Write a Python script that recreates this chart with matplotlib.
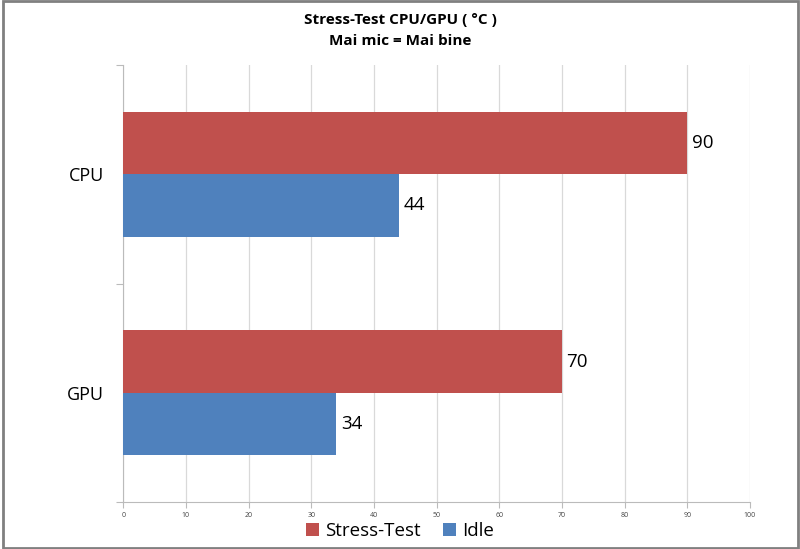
import matplotlib
matplotlib.use("Agg")
import matplotlib.pyplot as plt
from matplotlib.patches import Rectangle
import numpy as np

categories = ["CPU", "GPU"]
stress = [90, 70]
idle = [44, 34]
series_names = ["Stress-Test", "Idle"]
xticks = list(range(0, 101, 10))

plt.rcParams['font.family'] = ['Open Sans', 'DejaVu Sans']

fig = plt.figure(figsize=(8, 5.49), dpi=100)
ax = fig.add_axes([0.154, 0.0856, 0.7835, 0.796])

red = "#C0504D"
blue = "#4F81BD"
h = 0.285
y = np.arange(len(categories))
b1 = ax.barh(y - h / 2, stress, height=h, color=red, label=series_names[0], zorder=3)
b2 = ax.barh(y + h / 2, idle, height=h, color=blue, label=series_names[1], zorder=3)

for bars, vals in ((b1, stress), (b2, idle)):
    for bar, v in zip(bars, vals):
        ax.text(bar.get_width() + 0.7, bar.get_y() + bar.get_height() / 2, str(v),
                va="center", ha="left", fontsize=13.5, color="black")

ax.set_xlim(0, 100)
ax.set_ylim(1.5, -0.5)
ax.set_xticks(xticks)
ax.set_xticklabels([str(t) for t in xticks], fontsize=5, color="#444444")
ax.set_yticks([-0.5, 0.5, 1.5])
ax.set_yticklabels(["", "", ""])
ax.set_yticks(y, minor=True)
ax.set_yticklabels(categories, minor=True, fontsize=13)
ax.tick_params(axis="y", which="minor", length=0, pad=14)
ax.tick_params(axis="y", which="major", length=5, color="#BBBBBB")
ax.tick_params(axis="x", length=4, color="#BBBBBB", pad=3)
ax.grid(axis="x", color="#D9D9D9", linewidth=0.9, zorder=0)
for s in ("top", "right"):
    ax.spines[s].set_visible(False)
for s in ("left", "bottom"):
    ax.spines[s].set_color("#BBBBBB")

fig.text(0.5, 0.976, "Stress-Test CPU/GPU ( \u00b0C )\nMai mic = Mai bine", ha="center", va="top",
         fontsize=11, fontweight="bold", linespacing=1.65)

leg = fig.legend(handles=[b1, b2], loc="lower center", bbox_to_anchor=(0.5, -0.014), ncol=2,
                 frameon=False, fontsize=13.5, handlelength=0.7, handleheight=0.7,
                 handletextpad=0.3, columnspacing=1.2)

fig.patches.append(Rectangle((0.004, 0.002), 0.994, 0.996, transform=fig.transFigure,
                             fill=False, edgecolor="#808080", linewidth=2))

fig.savefig("out.png", dpi=100)
